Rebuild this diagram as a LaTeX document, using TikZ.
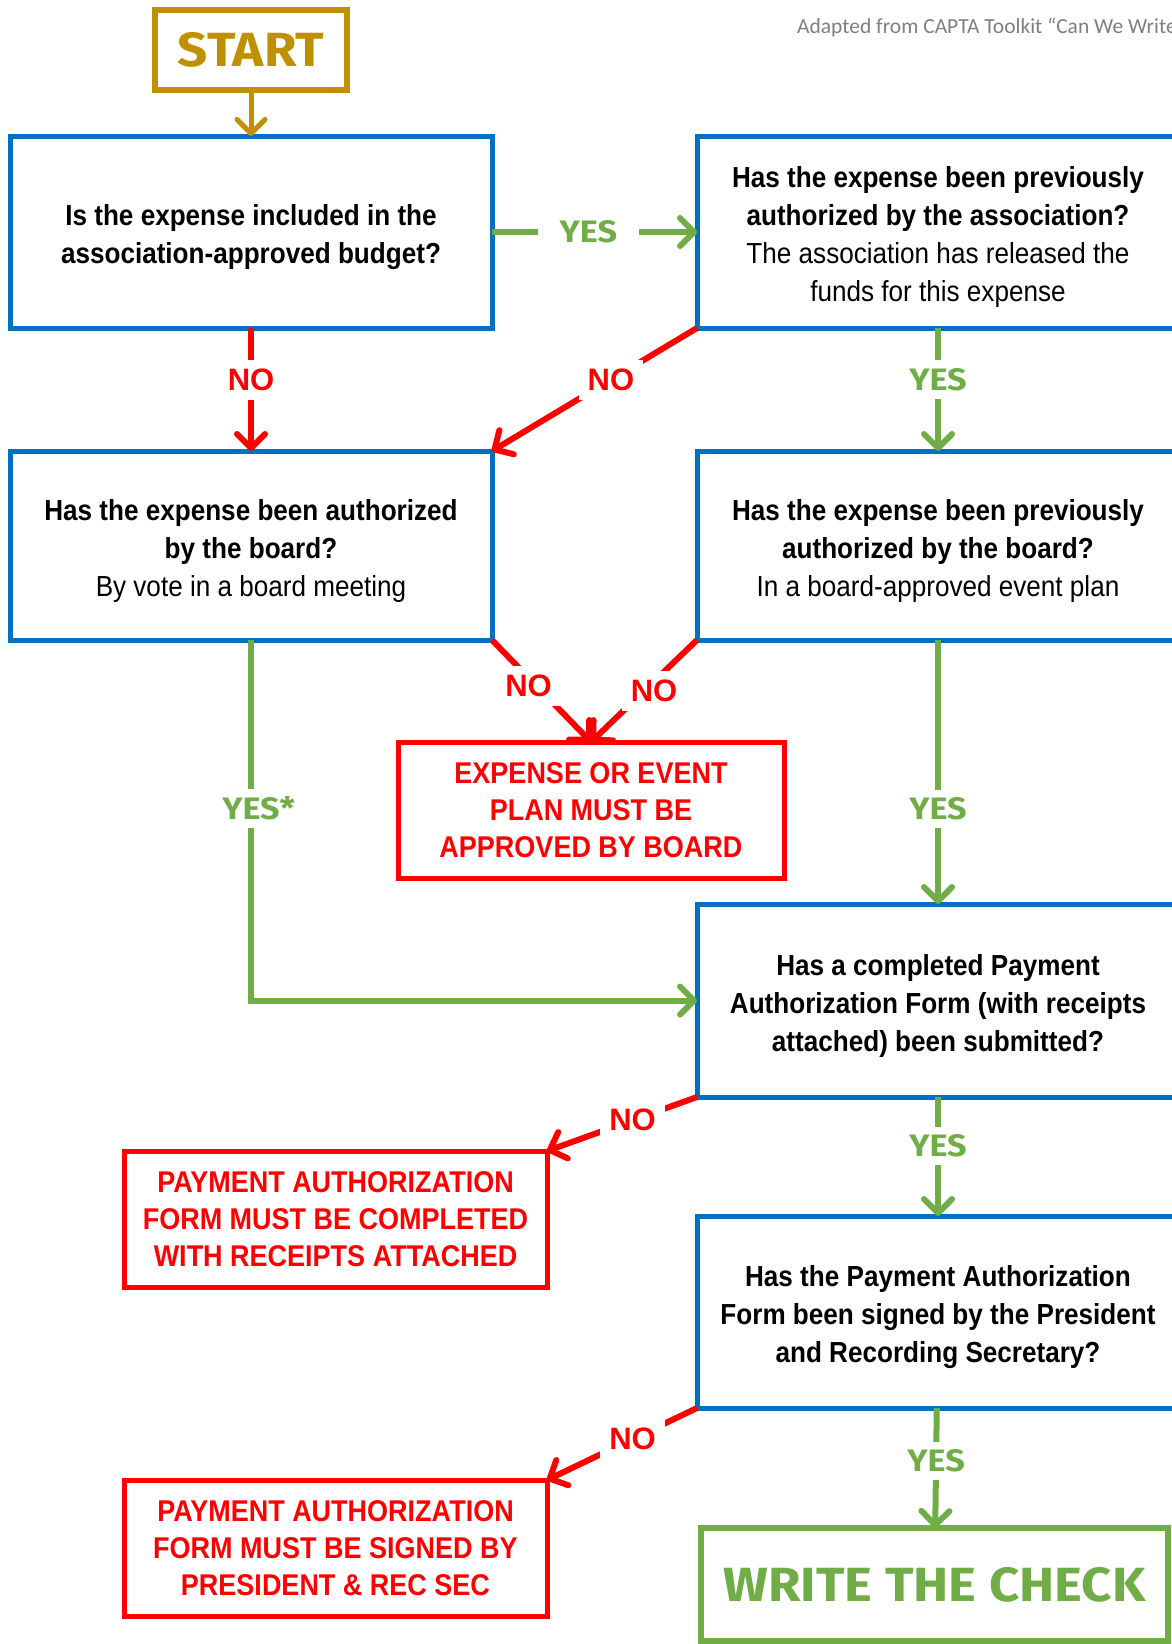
\documentclass[tikz,border=0pt]{standalone}
\usepackage{fontspec}
\setmainfont{Liberation Sans}
\newfontfamily\narrowfont[FakeStretch=0.9]{Liberation Sans}
\newfontfamily\roundfont[FakeStretch=1.1]{Fira Sans}
\newfontfamily\notefont{Carlito}
\usetikzlibrary{positioning}
\usetikzlibrary{arrows.meta}
\definecolor{qblue}{HTML}{0070C0}
\definecolor{okgreen}{HTML}{70AD47}
\definecolor{stopred}{HTML}{FF0000}
\definecolor{startgold}{HTML}{BF9000}
\definecolor{notegray}{HTML}{7F7F7F}
\newcommand{\qgap}{\rule{0pt}{31.5pt}}
\tikzset{
  question/.style={rectangle,draw=qblue,line width=5pt,fill=white,
                   minimum width=482pt,minimum height=192pt,outer sep=0pt,
                   align=center,font=\narrowfont\fontsize{29}{38}\selectfont},
  stopbox/.style={rectangle,draw=stopred,line width=5pt,fill=white,text=stopred,
                  minimum width=386pt,minimum height=136pt,outer sep=0pt,
                  align=center,font=\narrowfont\bfseries\fontsize{30}{37}\selectfont},
  startbox/.style={rectangle,draw=startgold,line width=5.5pt,text=startgold,
                   minimum width=192pt,minimum height=80pt,outer sep=0pt,
                   font=\roundfont\bfseries\fontsize{48}{48}\selectfont},
  checkbox/.style={rectangle,draw=okgreen,line width=5.5pt,text=okgreen,
                   minimum width=467pt,minimum height=113pt,outer sep=0pt,
                   font=\roundfont\bfseries\fontsize{48}{48}\selectfont},
  yesarrow/.style={draw=okgreen,line width=6pt,
                   -{Straight Barb[length=14pt,width=28pt,round]}},
  noarrow/.style={draw=stopred,line width=6pt,
                  -{Straight Barb[length=14pt,width=28pt,round]}},
  goldarrow/.style={draw=startgold,line width=5pt,
                    -{Straight Barb[length=14pt,width=28pt,round]}},
  yeslabel/.style={fill=white,text=okgreen,inner sep=8pt,
                   font=\roundfont\bfseries\fontsize{31}{31}\selectfont},
  nolabel/.style={fill=white,text=stopred,inner sep=9pt,
                  font=\bfseries\fontsize{31}{31}\selectfont},
  note/.style={text=notegray,inner sep=0pt,
               font=\notefont\fontsize{21.5}{21.5}\selectfont},
}
\begin{document}
\begin{tikzpicture}[x=1pt,y=-1pt]
    \useasboundingbox (0,0) rectangle (1171,1644);

    % Source note
    \node[note,anchor=base west] (credit) at (797,33)
        {Adapted from CAPTA Toolkit “Can We Write};

    % Start
    \node[startbox] (start) at (251,50) {START};

    % Questions
    \node[question] (budget) at (251,232)
        {\qgap\textbf{Is the expense included in the}\\
         \textbf{association-approved budget?}};
    \node[question] (assoc) [right=205pt of budget]
        {\qgap\textbf{Has the expense been previously}\\
         \textbf{authorized by the association?}\\
         The association has released the\\
         funds for this expense};
    \node[question,minimum height=189pt] (boardvote) [below=123pt of budget]
        {\qgap\textbf{Has the expense been authorized}\\
         \textbf{by the board?}\\
         By vote in a board meeting};
    \node[question,minimum height=189pt] (eventplan) [right=205pt of boardvote]
        {\qgap\textbf{Has the expense been previously}\\
         \textbf{authorized by the board?}\\
         In a board-approved event plan};
    \node[question,minimum height=193pt] (paf) [below=264pt of eventplan]
        {\qgap\textbf{Has a completed Payment}\\
         \textbf{Authorization Form (with receipts}\\
         \textbf{attached) been submitted?}};
    \node[question] (signed) [below=119pt of paf]
        {\qgap\textbf{Has the Payment Authorization}\\
         \textbf{Form been signed by the President}\\
         \textbf{and Recording Secretary?}};

    % Outcomes
    \node[stopbox] (mustapprove) at (591,810)
        {EXPENSE OR EVENT\\PLAN MUST BE\\APPROVED BY BOARD};
    \node[stopbox,minimum width=423pt] (mustcomplete) at (335.5,1219)
        {PAYMENT AUTHORIZATION\\FORM MUST BE COMPLETED\\WITH RECEIPTS ATTACHED};
    \node[stopbox,minimum width=423pt] (mustsign) [below=193pt of mustcomplete]
        {PAYMENT AUTHORIZATION\\FORM MUST BE SIGNED BY\\PRESIDENT \& REC SEC};
    \node[checkbox] (writecheck) at (934.5,1584.5) {WRITE THE CHECK};

    % Flow
    \draw[goldarrow] (start) -- (budget);
    \draw[yesarrow] (budget) -- node[yeslabel,pos=0.47,inner xsep=22pt]{YES} (assoc);
    \draw[noarrow] (budget) -- node[nolabel,pos=0.42]{NO} (boardvote);
    \draw[noarrow] (assoc.south west) -- node[nolabel,pos=0.42]{NO} (boardvote.north east);
    \draw[yesarrow] (assoc) -- node[yeslabel,pos=0.42]{YES} (eventplan);
    \draw[noarrow] (boardvote.south east) --
        node[nolabel,pos=0.45,xshift=-8pt]{NO} (mustapprove.north);
    \draw[noarrow] (eventplan.south west) --
        node[nolabel,pos=0.5,xshift=10pt]{NO} (mustapprove.north);
    \draw[yesarrow] (boardvote) |- node[yeslabel,pos=0.234]{YES\rlap{*}} (paf);
    \draw[yesarrow] (eventplan) -- node[yeslabel,pos=0.64]{YES} (paf);
    \draw[noarrow] (paf.south west) -- node[nolabel,pos=0.43]{NO} (mustcomplete.north east);
    \draw[yesarrow] (paf) -- node[yeslabel,pos=0.41]{YES} (signed);
    \draw[noarrow] (signed.south west) -- node[nolabel,pos=0.43]{NO} (mustsign.north east);
    \draw[yesarrow] (signed) -- node[yeslabel,pos=0.44]{YES} (writecheck);
\end{tikzpicture}
\end{document}
